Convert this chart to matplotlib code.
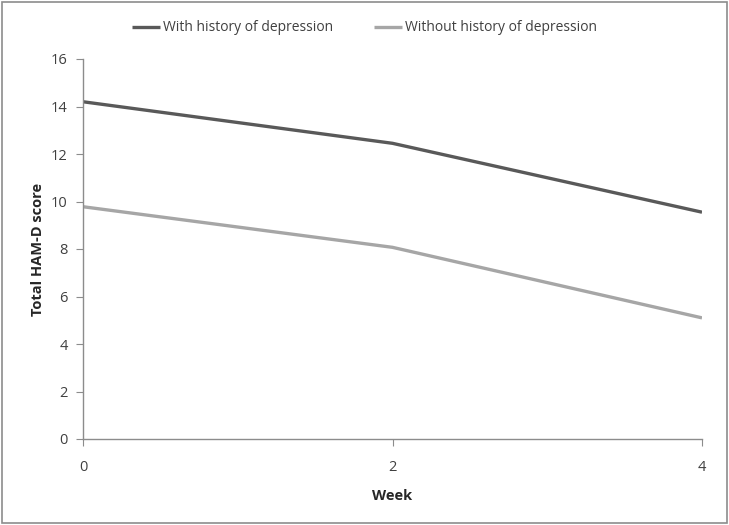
import matplotlib
matplotlib.use('Agg')
from matplotlib import pyplot as plt, patches

weeks = [0, 2, 4]
with_history = [14.2, 12.45, 9.55]
without_history = [9.78, 8.07, 5.1]
series_names = ['With history of depression', 'Without history of depression']
y_ticks = [0, 2, 4, 6, 8, 10, 12, 14, 16]
x_ticks = [0, 2, 4]

plt.rcParams['font.family'] = ['Open Sans', 'DejaVu Sans']

fig = plt.figure(figsize=(7.29, 5.25), dpi=100)
ax = fig.add_axes([83/729, 1 - 439/525, (702-83)/729, (439-59)/525])

ax.plot(weeks, with_history, color='#595959', linewidth=2.4, solid_capstyle='butt', label=series_names[0])
ax.plot(weeks, without_history, color='#a6a6a6', linewidth=2.4, solid_capstyle='butt', label=series_names[1])

ax.set_xlim(0, 4)
ax.set_ylim(0, 16)
ax.set_xticks(x_ticks)
ax.set_yticks(y_ticks)
for s in ['top', 'right']:
    ax.spines[s].set_visible(False)
for s in ['left', 'bottom']:
    ax.spines[s].set_color('#8c8c8c')
    ax.spines[s].set_linewidth(1)
ax.tick_params(axis='both', colors='#8c8c8c', labelcolor='#404040', labelsize=10.5, length=5, direction='out')
ax.tick_params(axis='x', pad=10)
ax.tick_params(axis='y', pad=6)

ax.set_xlabel('Week', fontsize=10.5, fontweight='bold', color='#262626', labelpad=10)
ax.set_ylabel('Total HAM-D score', fontsize=10.5, fontweight='bold', color='#262626', labelpad=4)

fig.legend(loc='upper center', bbox_to_anchor=(0.5, 0.985), ncol=2, frameon=False,
           fontsize=10, handlelength=2.0, handletextpad=0.2, columnspacing=3.0,
           labelcolor='#404040')

# outer frame
fig.patches.append(patches.Rectangle((0.003, 0.003), 0.994, 0.994, transform=fig.transFigure,
                                     fill=False, edgecolor='#8c8c8c', linewidth=1.2))

fig.savefig('out.png', dpi=100, facecolor='white')
